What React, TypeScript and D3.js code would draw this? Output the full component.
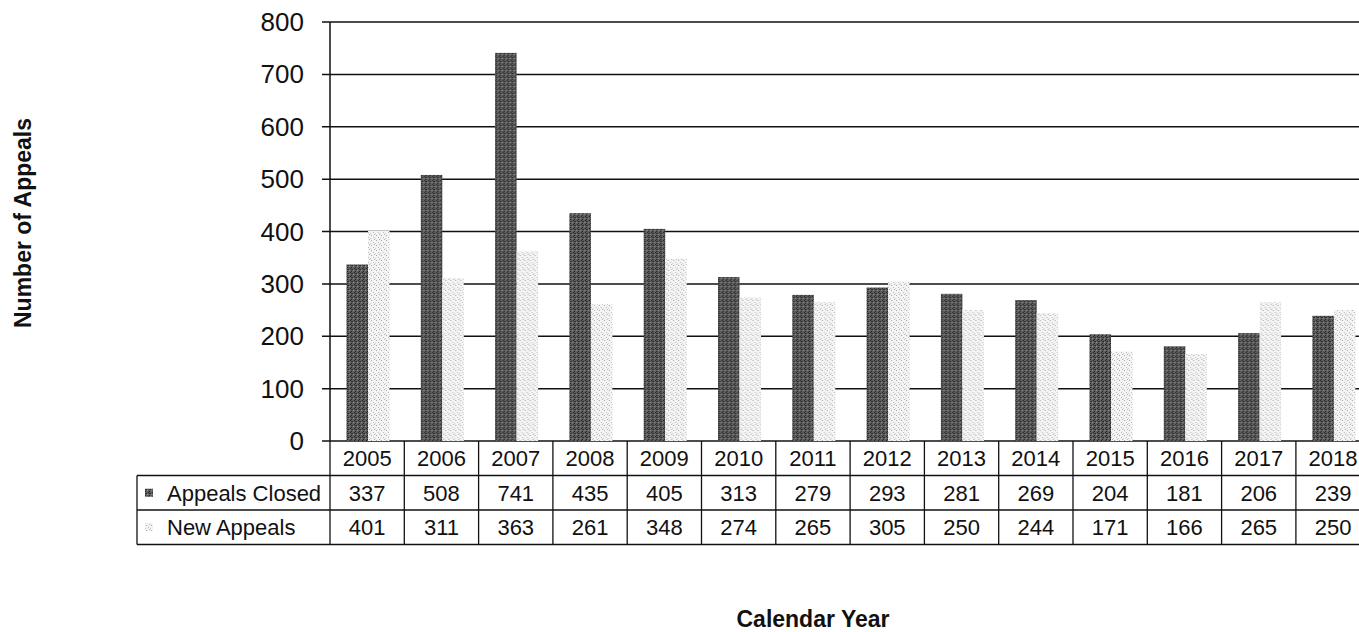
import * as d3 from "d3";

const years = ["2005", "2006", "2007", "2008", "2009", "2010", "2011", "2012", "2013", "2014", "2015", "2016", "2017", "2018"];
const appealsClosed = [337, 508, 741, 435, 405, 313, 279, 293, 281, 269, 204, 181, 206, 239];
const newAppeals = [401, 311, 363, 261, 348, 274, 265, 305, 250, 244, 171, 166, 265, 250];
const seriesNames = ["Appeals Closed", "New Appeals"];
const yTicks = [0, 100, 200, 300, 400, 500, 600, 700, 800];

const W = 1359;
const H = 632;
const FONT = "Liberation Sans, Arial, sans-serif";

export default function App() {
  const left = 330;
  const band = 74.3;
  const x = d3
    .scaleBand<string>()
    .domain(years)
    .range([left, left + band * years.length]);
  const xs = d3.scaleBand<string>().domain(seriesNames).range([16.5, 59.5]);
  const y = d3.scaleLinear().domain([0, 800]).range([441, 22]);

  const rowH = 34.5;
  const tableTop = y(0);
  const legendLeft = 137;
  const values = [appealsClosed, newAppeals];
  const fills = ["url(#darkDots)", "url(#lightDots)"];
  const tableRight = Math.min(W, (x(years[years.length - 1]) ?? 0) + x.bandwidth());

  return (
    <svg
      width={W}
      height={H}
      style={{ position: "absolute", left: 0, top: 0, background: "#fff" }}
      fontFamily={FONT}
    >
      <defs>
        <pattern id="darkDots" width="4" height="4" patternUnits="userSpaceOnUse">
          <rect width="4" height="4" fill="#5e5e5e" />
          <rect x="0" y="0" width="1" height="1" fill="#222" />
          <rect x="2" y="1" width="1" height="1" fill="#2a2a2a" />
          <rect x="1" y="3" width="1" height="1" fill="#222" />
          <rect x="3" y="2" width="1" height="1" fill="#8a8a8a" />
          <rect x="1" y="1" width="1" height="1" fill="#333" />
        </pattern>
        <pattern id="lightDots" width="5" height="5" patternUnits="userSpaceOnUse">
          <rect width="5" height="5" fill="#f4f4f4" />
          <rect x="1" y="0" width="1" height="1" fill="#a8a8a8" />
          <rect x="3" y="2" width="1" height="1" fill="#bdbdbd" />
          <rect x="0" y="3" width="1" height="1" fill="#cfcfcf" />
          <rect x="4" y="4" width="1" height="1" fill="#b5b5b5" />
        </pattern>
      </defs>

      {/* gridlines + ticks */}
      {yTicks.map((t) => (
        <g key={t}>
          <line x1={322} x2={W} y1={y(t)} y2={y(t)} stroke="#111" strokeWidth={1.5} />
          <text x={304} y={y(t)} dy="0.35em" textAnchor="end" fontSize={26} fill="#111">
            {t}
          </text>
        </g>
      ))}
      <line x1={left} x2={left} y1={y(800)} y2={y(0)} stroke="#111" strokeWidth={1.5} />

      {/* bars */}
      {years.map((yr, i) => (
        <g key={yr} transform={`translate(${x(yr)},0)`}>
          {seriesNames.map((s, k) => (
            <rect
              key={s}
              x={xs(s)}
              width={xs.bandwidth()}
              y={y(values[k][i])}
              height={y(0) - y(values[k][i])}
              fill={fills[k]}
            />
          ))}
        </g>
      ))}

      {/* data table */}
      <g stroke="#111" strokeWidth={1.3}>
        <line x1={left} x2={tableRight} y1={tableTop + rowH} y2={tableTop + rowH} />
        <line x1={legendLeft} x2={left} y1={tableTop + rowH} y2={tableTop + rowH} />
        <line x1={legendLeft} x2={tableRight} y1={tableTop + rowH * 2} y2={tableTop + rowH * 2} />
        <line x1={legendLeft} x2={tableRight} y1={tableTop + rowH * 3} y2={tableTop + rowH * 3} />
        <line x1={legendLeft} x2={legendLeft} y1={tableTop + rowH} y2={tableTop + rowH * 3} />
        {years.map((yr) => (
          <line key={yr} x1={(x(yr) ?? 0) + x.bandwidth()} x2={(x(yr) ?? 0) + x.bandwidth()} y1={tableTop} y2={tableTop + rowH * 3} />
        ))}
        <line x1={left} x2={left} y1={tableTop} y2={tableTop + rowH * 3} />
      </g>

      {years.map((yr, i) => {
        const cx = (x(yr) ?? 0) + x.bandwidth() / 2;
        return (
          <g key={yr} fontSize={22} fill="#111" textAnchor="middle">
            <text x={cx} y={tableTop + rowH / 2} dy="0.36em">{yr}</text>
            <text x={cx} y={tableTop + rowH * 1.5} dy="0.36em">{appealsClosed[i]}</text>
            <text x={cx} y={tableTop + rowH * 2.5} dy="0.36em">{newAppeals[i]}</text>
          </g>
        );
      })}

      {seriesNames.map((s, k) => (
        <g key={s}>
          <rect
            x={145}
            y={tableTop + rowH * (1.5 + k) - 4}
            width={8}
            height={8}
            fill={fills[k]}
          />
          <text x={167} y={tableTop + rowH * (1.5 + k)} dy="0.36em" fontSize={22} fill="#111">
            {s}
          </text>
        </g>
      ))}

      {/* axis titles */}
      <text
        transform={`translate(31,${223}) rotate(-90)`}
        textAnchor="middle"
        fontSize={23}
        fontWeight="bold"
        fill="#111"
      >
        Number of Appeals
      </text>
      <text x={813} y={627} textAnchor="middle" fontSize={23} fontWeight="bold" fill="#111">
        Calendar Year
      </text>
    </svg>
  );
}
